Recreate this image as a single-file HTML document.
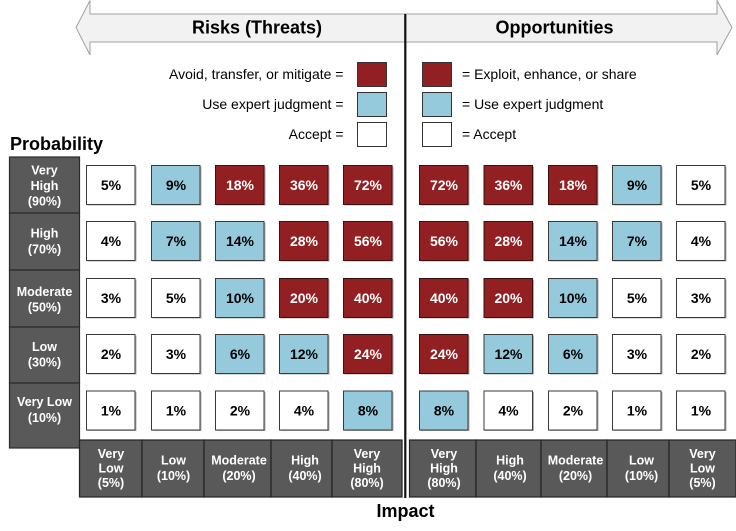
<!DOCTYPE html>
<html><head><meta charset="utf-8">
<style>
html,body{margin:0;padding:0;background:#fff;}
svg{display:block;}
text{font-family:"Liberation Sans",Arial,sans-serif;}
</style></head>
<body>
<svg width="736" height="531" viewBox="0 0 736 531" xmlns="http://www.w3.org/2000/svg">
<!-- double arrow -->
<polygon points="76,27.5 90,0.5 90,14 717,14 717,0.5 732,27.5 717,55 717,42 90,42 90,55" fill="#F2F2F2" stroke="#A0A0A0" stroke-width="1"/>
<text x="257" y="33.5" font-size="18" font-weight="bold" text-anchor="middle" fill="#000">Risks (Threats)</text>
<text x="554.5" y="33.5" font-size="18" font-weight="bold" text-anchor="middle" fill="#000">Opportunities</text>
<!-- divider -->
<rect x="404.2" y="14" width="2.2" height="484" fill="#111"/>

<!-- legend left -->
<g font-size="14" fill="#000" text-anchor="end">
<text x="343.5" y="79">Avoid, transfer, or mitigate =</text>
<text x="343.5" y="109">Use expert judgment =</text>
<text x="343.5" y="139">Accept =</text>
</g>
<g font-size="14" fill="#000">
<text x="462" y="79">= Exploit, enhance, or share</text>
<text x="462" y="109">= Use expert judgment</text>
<text x="462" y="139">= Accept</text>
</g>
<g stroke="#333" stroke-width="1">
<rect x="357.5" y="62.5" width="29" height="24" fill="#922022"/>
<rect x="357.5" y="92.5" width="29" height="24" fill="#95CADC"/>
<rect x="357.5" y="122.5" width="29" height="24" fill="#fff"/>
<rect x="422.5" y="62.5" width="29" height="24" fill="#922022"/>
<rect x="422.5" y="92.5" width="29" height="24" fill="#95CADC"/>
<rect x="422.5" y="122.5" width="29" height="24" fill="#fff"/>
</g>

<!-- Probability -->
<text x="10" y="150" font-size="18" font-weight="bold" fill="#000">Probability</text>
<g stroke="#2a2a2a" stroke-width="1.2" fill="#595959">
<rect x="9.5" y="157" width="70" height="56"/>
<rect x="9.5" y="213" width="70" height="57"/>
<rect x="9.5" y="270" width="70" height="57"/>
<rect x="9.5" y="327" width="70" height="56"/>
<rect x="9.5" y="383" width="70" height="65"/>
</g>
<g font-size="12.5" font-weight="bold" fill="#fff" text-anchor="middle">
<text x="44.5" y="174.5">Very</text><text x="44.5" y="190">High</text><text x="44.5" y="205.5">(90%)</text>
<text x="44.5" y="237.5">High</text><text x="44.5" y="253.5">(70%)</text>
<text x="44.5" y="296">Moderate</text><text x="44.5" y="311.5">(50%)</text>
<text x="44.5" y="351">Low</text><text x="44.5" y="366.5">(30%)</text>
<text x="44.5" y="406">Very Low</text><text x="44.5" y="422">(10%)</text>
</g>

<!-- bottom headers -->
<g stroke="#222" stroke-width="1.2" fill="#595959">
<rect x="79.5" y="440" width="62.5" height="57"/>
<rect x="142" y="440" width="62" height="57"/>
<rect x="204" y="440" width="67" height="57"/>
<rect x="271" y="440" width="61" height="57"/>
<rect x="332" y="440" width="70" height="57"/>
<rect x="409.5" y="440" width="66.5" height="57"/>
<rect x="476" y="440" width="65" height="57"/>
<rect x="541" y="440" width="66" height="57"/>
<rect x="607" y="440" width="62" height="57"/>
<rect x="669" y="440" width="67" height="57"/>
</g>
<g font-size="12.5" font-weight="bold" fill="#fff" text-anchor="middle">
<text x="111" y="458">Very</text><text x="111" y="472.5">Low</text><text x="111" y="487">(5%)</text>
<text x="173.5" y="464.5">Low</text><text x="173.5" y="480">(10%)</text>
<text x="239" y="464.5">Moderate</text><text x="239" y="480">(20%)</text>
<text x="305" y="464.5">High</text><text x="305" y="480">(40%)</text>
<text x="367" y="458">Very</text><text x="367" y="472.5">High</text><text x="367" y="487">(80%)</text>
<text x="444" y="458">Very</text><text x="444" y="472.5">High</text><text x="444" y="487">(80%)</text>
<text x="510" y="464.5">High</text><text x="510" y="480">(40%)</text>
<text x="575.5" y="464.5">Moderate</text><text x="575.5" y="480">(20%)</text>
<text x="641.5" y="464.5">Low</text><text x="641.5" y="480">(10%)</text>
<text x="702.5" y="458">Very</text><text x="702.5" y="472.5">Low</text><text x="702.5" y="487">(5%)</text>
</g>

<text x="405.5" y="517" font-size="18" font-weight="bold" text-anchor="middle" fill="#000">Impact</text>

<!-- cells -->
<g id="cells" font-size="14" font-weight="bold" text-anchor="middle">
<!-- shadows -->
<g fill="#b5b5b5">
</g>
</g>
<script>
(function(){
var svg=document.getElementById('cells');
var ns='http://www.w3.org/2000/svg';
var lx=[86,151,215,279,343], rx=[419,483.5,548,612,676];
var ry=[165,221,278,334,390.5];
var R='#922022',B='#95CADC',W='#ffffff';
var left=[
[[5,W],[9,B],[18,R],[36,R],[72,R]],
[[4,W],[7,B],[14,B],[28,R],[56,R]],
[[3,W],[5,W],[10,B],[20,R],[40,R]],
[[2,W],[3,W],[6,B],[12,B],[24,R]],
[[1,W],[1,W],[2,W],[4,W],[8,B]]
];
function cell(x,y,v,c){
  var s=document.createElementNS(ns,'rect');
  s.setAttribute('x',x+1.5);s.setAttribute('y',y+1.5);s.setAttribute('width',49);s.setAttribute('height',39);
  s.setAttribute('fill','#b0b0b0');svg.appendChild(s);
  var r=document.createElementNS(ns,'rect');
  r.setAttribute('x',x+0.5);r.setAttribute('y',y+0.5);r.setAttribute('width',48.5);r.setAttribute('height',39);
  r.setAttribute('fill',c);r.setAttribute('stroke',c==R?'#3a1010':'#3a3a3a');r.setAttribute('stroke-width','1');
  svg.appendChild(r);
  var t=document.createElementNS(ns,'text');
  t.setAttribute('x',x+25);t.setAttribute('y',y+25);
  t.setAttribute('fill',c==R?'#fff':'#000');
  t.textContent=v+'%';svg.appendChild(t);
}
for(var i=0;i<5;i++){for(var j=0;j<5;j++){
  var d=left[i][j];cell(lx[j],ry[i],d[0],d[1]);
  var e=left[i][4-j];cell(rx[j],ry[i],e[0],e[1]);
}}
})();
</script>
</svg>
</body></html>
